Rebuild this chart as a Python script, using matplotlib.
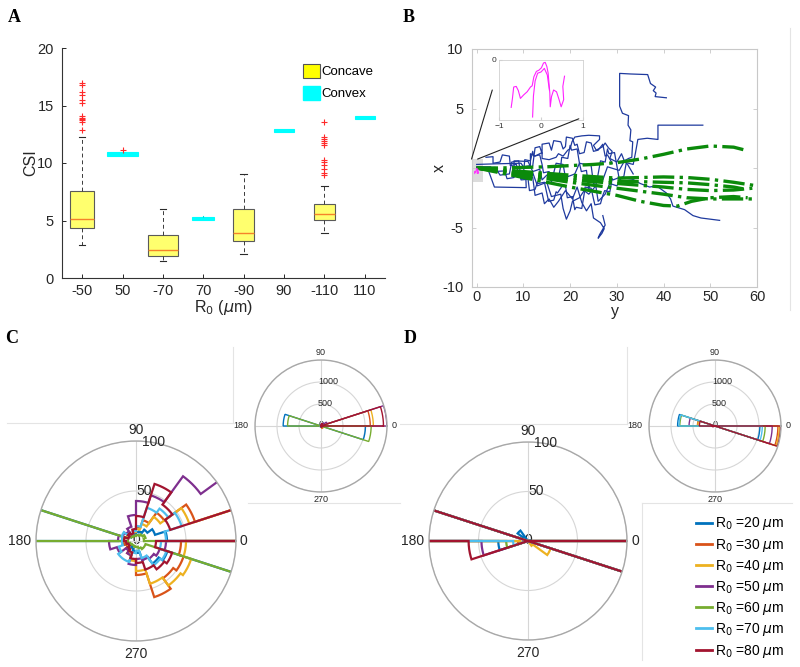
import numpy as np
import matplotlib
matplotlib.use('Agg')
import matplotlib.pyplot as plt
from matplotlib.patches import Patch, Rectangle, ConnectionPatch
from matplotlib.lines import Line2D

plt.rcParams['font.family'] = ['Liberation Sans', 'DejaVu Sans']

# ---------------- data: panel A ----------------
categories = ['-50', '50', '-70', '70', '-90', '90', '-110', '110']
concave_pos = [1, 3, 5, 7]
convex_pos = [2, 4, 6, 8]
concave_med = [5.1, 2.4, 3.95, 5.57]
concave_q1 = [4.35, 1.92, 3.22, 5.05]
concave_q3 = [7.55, 3.78, 6.04, 6.42]
concave_lo = [2.85, 1.51, 2.12, 3.95]
concave_hi = [12.25, 6.04, 9.06, 8.04]
concave_fliers = [[12.9, 13.6, 13.7, 13.8, 13.9, 14.1, 15.2, 15.5, 15.9, 16.2, 16.8, 17.0],
                  [], [],
                  [9.0, 9.1, 9.5, 9.8, 10.1, 10.3, 11.6, 11.7, 11.9, 12.1, 12.3, 13.6]]
concave_w = [0.58, 0.76, 0.52, 0.52]
convex_med = [10.8, 5.15, 12.85, 13.95]
convex_q1 = [10.62, 5.03, 12.72, 13.83]
convex_q3 = [10.97, 5.3, 13.0, 14.07]
convex_hi = [10.97, 5.38, 13.0, 14.07]
convex_fliers = [[11.15], [], [], []]
convex_w = [0.78, 0.54, 0.51, 0.5]

# ---------------- data: panel B ----------------
traj1_y = [0, 4, 9.5, 10, 11.5, 11.5, 12.5, 14, 14, 15.5, 17, 17.5, 18.5, 19.5, 20, 20.4, 21, 22.5, 24, 26.3, 26.3,
           25, 25.6, 27, 27.5, 28.2, 29, 28.5, 30, 31, 31.6, 32.5, 33.2, 33.4, 32.8, 33, 32.4, 32.5, 31.2, 30.6,
           30.6, 33, 36.6, 37.2, 38.3, 37.8, 38.4, 38.2, 40.6]
traj1_x = [0.3, 0.35, 0.4, 0.1, 0.2, 1.2, 1.0, 1.3, 0.8, 0.7, 0.9, 1.2, 1.0, 1.5, 1.6, 2.2, 2.6, 2.7, 2.75, 2.7, 2.4,
           1.9, 1.5, 1.8, 2.1, 1.7, 1.4, 0.8, 0.5, 1.2, 0.6, 0.8, 0.9, 2.2, 2.3, 3.2, 3.6, 4.4, 4.6, 5.2,
           7.95, 7.9, 7.85, 7.1, 6.8, 6.5, 6.3, 6.0, 5.9]
traj2_y = [0, 3, 3, 6, 6.5, 8, 8, 11, 12, 13.5, 14, 15, 16.5, 17, 18.5, 19, 21, 22, 24.5, 25, 27, 28, 30.5,
           31.5, 33.5, 34, 34.5, 36.5, 38.8, 38.8, 48.4]
traj2_x = [0.1, 0.1, -0.3, -0.25, -0.9, -0.8, 0.6, 0.55, -0.3, -0.1, -1.0, -0.6, -0.4, 0.4, 0.3, -0.8, -0.5,
           0.4, 0.2, -1.3, -1.0, 0.1, -0.2, 0.5, 0.3, 1.3, 2.4, 2.5, 2.4, 3.6, 3.6]
traj3_y = [0, 2.5, 3.8, 10.6, 10.5, 12, 13, 15, 16, 18, 18.5, 19.2, 20, 20.5, 22, 23, 24, 25.5, 26, 27.5, 28.5,
           30, 31, 33.4, 35, 37, 38.5, 40.6, 41.5, 42, 44.5, 46.3, 48, 50, 52]
traj3_x = [-0.1, -0.2, -1.6, -1.65, -0.5, -0.4, -1.5, -1.2, -2.4, -2.2, -3.4, -4.3, -3.6, -2.8, -2.5, -1.9, -2.2,
           -1.5, -2.8, -2.2, -1.3, -1.5, -0.8, -0.95, -1.3, -1.6, -1.5, -2.1, -2.6, -3.2, -3.5, -4.0, -4.2,
           -4.3, -4.4]
traj4_y = [0, 4, 5, 7, 7.5, 9, 9.5, 12, 12.5, 14, 14.5, 15.5, 16.5, 17.5, 19, 20.5, 21.5, 22.5, 23.5, 24.5, 25,
           26.5, 27.3, 26.8, 26, 26.3, 27.5, 27]
traj4_x = [0, 0.05, -0.6, -0.5, 0.5, 0.6, -0.9, -0.8, -2.3, -2.1, -3.0, -2.6, -3.3, -2.8, -1.9, -2.6, -1.6, -2.9,
           -3.6, -3.0, -4.2, -4.6, -5.1, -5.5, -5.9, -5.6, -4.8, -4.0]
traj5_y = [2, 3.5, 3.5, 5, 5.5, 7, 7.2, 8.5, 9, 10, 10.3, 11.5, 12, 12.2, 13.5, 14, 14.3, 15.5, 16, 16.2, 17.5,
           18, 18.2, 19.5, 20, 20.3, 21.5, 22, 22.4, 23.5, 24, 24.2, 25.5, 26, 26.5, 27.5, 28, 28.3, 29.5, 30,
           30.5, 31.5, 32, 32.3, 33.5]
traj5_x = [0.9, 0.95, 0.4, 0.5, 1.1, 1.0, 0.2, 0.3, -0.6, -0.5, 0.7, 0.6, 1.4, 1.0, 1.1, 0.3, -0.4, -0.3, -1.2,
           -0.8, -0.9, 0.2, 0.9, 0.8, 1.9, 1.5, 1.6, 0.4, -0.3, -0.2, -1.8, -1.4, -1.5, -0.5, 0.6, 0.5, 1.6, 1.2,
           1.3, 0.2, -0.9, -0.7, 0.4, 0.3, -0.5]
traj6_y = [8, 9, 9.5, 11, 11.3, 12.5, 13, 13.2, 14.5, 15, 15.4, 16.5, 17, 17.3, 18.5, 19, 19.4, 20.5, 21, 21.3,
           22.5, 23, 23.2, 24.5, 25, 25.3, 26.5, 27, 27.4, 28.5, 29, 29.2, 30.5, 31]
traj6_x = [-0.3, -0.25, -1.0, -0.95, -1.9, -1.8, -1.2, -1.3, -1.2, -2.1, -2.8, -2.7, -2.0, -2.1, -1.4, -1.5, -2.5,
           -2.4, -3.5, -3.3, -3.4, -2.2, -1.6, -1.7, -2.6, -3.1, -3.0, -2.3, -1.9, -2.0, -0.9, -1.0, -0.8, -1.3]
traj7_y = [12, 12.5, 13.5, 14, 14, 15.5, 16, 16.5, 18, 18.5, 19, 19.2, 20.5, 21, 21.5, 22, 23, 23.5, 24.5, 25,
           26, 27, 27.5, 28, 29]
traj7_x = [0.2, 1.7, 1.8, 1.2, 2.0, 2.1, 1.5, 2.3, 2.2, 1.6, 1.8, 2.6, 2.5, 1.9, 2.0, 1.2, 1.3, 2.2, 2.1, 1.4,
           1.5, 2.0, 1.0, 1.1, 0.4]
green_y = [[0, 5, 10, 15, 20, 25, 30, 35, 40, 45, 50, 55, 57.5],
           [0, 10, 20, 30, 35, 40, 45, 50, 55, 60],
           [0, 10, 20, 30, 40, 45, 50, 55, 59],
           [0, 10, 20, 30, 40, 45, 50, 55, 60],
           [0, 10, 20, 30, 35, 40, 43, 46, 50, 55, 58],
           [0, 10, 20, 30, 40, 45, 50, 55, 57]]
green_x = [[0, 0, 0.05, 0.1, 0.2, 0.3, 0.45, 0.75, 1.15, 1.6, 1.85, 1.75, 1.5],
           [0, -0.3, -0.6, -0.85, -0.8, -0.75, -0.8, -0.95, -1.2, -1.5],
           [0, -0.5, -1.0, -1.3, -1.6, -1.8, -1.9, -1.85, -1.7],
           [0, -0.6, -1.2, -1.7, -2.2, -2.5, -2.6, -2.6, -2.6],
           [0, -0.8, -1.6, -2.3, -2.8, -3.15, -3.2, -2.8, -2.5, -2.4, -2.5],
           [0, -0.4, -0.8, -1.1, -1.2, -1.25, -1.4, -1.6, -1.75]]
mag_x = [-0.71, -0.68, -0.65, -0.59, -0.54, -0.49, -0.41, -0.33, -0.25, -0.21, -0.17, -0.11, -0.05, 0.01, 0.06,
         0.10, 0.14, 0.17, 0.19, 0.21, 0.22, 0.25, 0.30, 0.37, 0.43, 0.48, 0.54, 0.52, 0.56]
mag_y = [-0.79, -0.64, -0.45, -0.44, -0.51, -0.64, -0.58, -0.53, -0.45, -0.43, -0.28, -0.19, -0.17, -0.13, -0.05,
         -0.04, -0.11, -0.22, -0.39, -0.55, -0.78, -0.61, -0.50, -0.53, -0.66, -0.78, -0.66, -0.44, -0.27]
mag2_x = [0.20, 0.15, 0.08, 0.0, -0.08, -0.14, -0.18, -0.20]
mag2_y = [-0.50, -0.25, -0.14, -0.20, -0.22, -0.35, -0.60, -0.95]

# ---------------- data: panels C, D (20 bins of 18 deg) ----------------
labels_R0 = ['20', '30', '40', '50', '60', '70', '80']
series_colors = ['#0072BD', '#D95319', '#EDB120', '#7E2F8E', '#77AC30', '#4DBEEE', '#A2142F']
C_counts = [
    [31, 20, 14, 10, 9, 8, 6, 6, 9, 860, 12, 7, 6, 8, 10, 12, 20, 28, 33, 1010],
    [1120, 62, 35, 22, 14, 10, 8, 8, 10, 14, 12, 10, 12, 15, 19, 34, 59, 46, 50, 45],
    [1190, 56, 30, 18, 12, 9, 8, 8, 10, 12, 10, 9, 10, 14, 20, 30, 45, 55, 58, 50],
    [1495, 150, 80, 48, 40, 26, 15, 12, 14, 18, 27, 20, 12, 15, 24, 18, 20, 22, 25, 30],
    [8, 10, 8, 6, 6, 5, 5, 6, 8, 760, 8, 6, 5, 5, 6, 6, 8, 10, 10, 1140],
    [30, 48, 40, 35, 15, 10, 8, 10, 15, 14, 14, 18, 22, 22, 12, 10, 18, 30, 32, 25],
    [1420, 36, 45, 60, 25, 12, 8, 10, 8, 12, 10, 8, 10, 12, 18, 22, 30, 35, 38, 20],
]
D_counts = [
    [2, 0, 0, 0, 0, 0, 0, 13, 0, 850, 30, 0, 0, 0, 0, 0, 0, 0, 0, 1020],
    [0, 0, 0, 0, 0, 0, 0, 0, 0, 400, 10, 0, 0, 0, 0, 0, 0, 0, 0, 1430],
    [0, 0, 0, 0, 0, 0, 0, 0, 0, 390, 8, 0, 0, 0, 0, 0, 0, 6, 24, 1460],
    [0, 0, 0, 0, 0, 0, 0, 0, 0, 590, 47, 0, 0, 0, 0, 0, 0, 0, 0, 1300],
    [0, 0, 0, 0, 0, 0, 0, 0, 0, 800, 22, 0, 0, 0, 0, 0, 0, 0, 0, 1140],
    [0, 0, 0, 0, 0, 0, 0, 0, 0, 820, 15, 0, 0, 0, 0, 0, 0, 0, 0, 1075],
    [0, 0, 0, 0, 0, 0, 0, 0, 0, 355, 60, 0, 0, 0, 0, 0, 0, 0, 0, 1490],
]

fig = plt.figure(figsize=(8, 6.67), dpi=100)
W, H = 800.0, 667.0


def fbox(l, t, r, b):
    return [l / W, 1 - b / H, (r - l) / W, (b - t) / H]


def fline(x0, y0, x1, y1):
    fig.add_artist(Line2D([x0 / W, x1 / W], [1 - y0 / H, 1 - y1 / H], transform=fig.transFigure,
                          color='#e4e4e4', lw=0.8))


# faint panel frames
fline(7, 423, 233, 423); fline(233, 347, 233, 423); fline(248, 503, 400, 503)
fline(400, 424, 627, 424); fline(627, 347, 627, 424); fline(642, 503, 792, 503); fline(642, 503, 642, 660)
fline(790, 28, 790, 310)

# panel letters
for lab, x, y in [('A', 8, 22), ('B', 403, 22), ('C', 5, 343), ('D', 404, 343)]:
    fig.text(x / W, 1 - y / H, lab, fontsize=13, fontweight='bold', family='Liberation Serif')

# ---------------- Panel A ----------------
axA = fig.add_axes(fbox(62, 48, 385, 278))
cstats = [dict(med=concave_med[i], q1=concave_q1[i], q3=concave_q3[i], whislo=concave_lo[i],
               whishi=concave_hi[i], fliers=concave_fliers[i]) for i in range(4)]
axA.bxp(cstats, positions=concave_pos, widths=concave_w, patch_artist=True, capwidths=0.16,
        boxprops=dict(facecolor='#ffff6e', edgecolor='#5a5a5a', lw=0.8),
        medianprops=dict(color='#f5822a', lw=1.0),
        whiskerprops=dict(color='#3a3a3a', ls=(0, (4, 3)), lw=0.7),
        capprops=dict(color='#2a2a2a', lw=0.8),
        flierprops=dict(marker='+', markeredgecolor='#ff2a2a', markersize=4, mew=0.8))
vstats = [dict(med=convex_med[i], q1=convex_q1[i], q3=convex_q3[i], whislo=convex_q1[i],
               whishi=convex_hi[i], fliers=convex_fliers[i]) for i in range(4)]
axA.bxp(vstats, positions=convex_pos, widths=convex_w, patch_artist=True, capwidths=0.0,
        boxprops=dict(facecolor='#00ffff', edgecolor='#00ffff', lw=0.8),
        medianprops=dict(color='#00ffff', lw=0.8),
        whiskerprops=dict(color='#00e0e0', lw=0.8),
        capprops=dict(color='#00ffff', lw=0.0),
        flierprops=dict(marker='+', markeredgecolor='#ff2a2a', markersize=4, mew=0.8))
axA.set_xlim(0.5, 8.5)
axA.set_ylim(0, 20)
axA.set_xticks(range(1, 9))
axA.set_xticklabels(categories)
axA.set_yticks([0, 5, 10, 15, 20])
for s in ['top', 'right']:
    axA.spines[s].set_visible(False)
for s in ['left', 'bottom']:
    axA.spines[s].set_color('#333333'); axA.spines[s].set_linewidth(0.8)
axA.tick_params(direction='in', length=3, labelsize=10.5, colors='#262626', width=0.7, pad=4)
axA.tick_params(axis='y', pad=6)
axA.set_ylabel('CSI', fontsize=11.5, color='#262626')
axA.yaxis.set_label_coords(-0.075, 0.5)
axA.set_xlabel(r'R$_0$ ($\mu$m)', fontsize=11.5, color='#262626')
axA.xaxis.set_label_coords(0.5, -0.088)
fig.legend(handles=[Patch(facecolor='#ffff00', edgecolor='#555555', lw=0.8),
                    Patch(facecolor='#00ffff', edgecolor='#00ffff')],
           labels=['Concave', 'Convex'], loc='upper left', bbox_to_anchor=(291 / W, 1 - 52 / H),
           frameon=False, fontsize=9.5, handlelength=1.3, handleheight=1.3, handletextpad=0.1,
           labelspacing=0.55)

# ---------------- Panel B ----------------
axB = fig.add_axes(fbox(472, 49, 757, 287))
axB.add_patch(Rectangle((-1.1, -1.15), 2.45, 1.9, facecolor='#dcdcdc', edgecolor='none', zorder=1))
for ty, tx in [(traj1_y, traj1_x), (traj2_y, traj2_x), (traj3_y, traj3_x), (traj4_y, traj4_x),
               (traj5_y, traj5_x), (traj6_y, traj6_x), (traj7_y, traj7_x)]:
    axB.plot(ty, tx, color='#1f3a9e', lw=0.9, zorder=2)
for gy, gx in zip(green_y, green_x):
    axB.plot(gy, gx, color='#0b8a0b', lw=2.4, ls='-.', zorder=3)
axB.plot(np.array(mag_x) * 0.6, np.array(mag_y) * 0.6, color='#ff33ff', lw=0.7, zorder=4)
axB.set_xlim(-1, 60)
axB.set_ylim(-10, 10)
axB.set_xticks([0, 10, 20, 30, 40, 50, 60])
axB.set_yticks([-10, -5, 0, 5, 10])
axB.set_yticklabels(['-10', '-5', '', '5', '10'])
for s in axB.spines.values():
    s.set_color('#c8c8c8'); s.set_linewidth(0.8)
axB.tick_params(direction='in', length=3, labelsize=10.5, colors='#262626', width=0.6,
                top=True, right=True, pad=2)
axB.tick_params(axis='y', pad=6)
axB.tick_params(axis='both', color='#c8c8c8')
axB.set_xlabel('y', fontsize=11.5, color='#262626')
axB.xaxis.set_label_coords(0.5, -0.072)
axB.set_ylabel('x', fontsize=11.5, color='#262626', rotation=90)
axB.yaxis.set_label_coords(-0.088, 0.5)

axIn = fig.add_axes(fbox(499, 60, 583, 120))
axIn.plot(mag_x, mag_y, color='#ff22ff', lw=0.8)
axIn.plot(mag2_x, mag2_y, color='#ff22ff', lw=0.8)
axIn.set_xlim(-1, 1)
axIn.set_ylim(-1, 0)
axIn.set_xticks([-1, 0, 1])
axIn.set_yticks([0])
for s in axIn.spines.values():
    s.set_color('#d0d0d0'); s.set_linewidth(0.6)
axIn.tick_params(direction='in', length=2, labelsize=6, colors='#333333', pad=2)
axIn.tick_params(axis='both', color='#d0d0d0')
for xyA, xyB in [((-1.1, 0.75), (-0.08, 0.5)), ((0.2, 0.75), (0.95, 0.02))]:
    cp = ConnectionPatch(xyA=xyA, coordsA=axB.transData, xyB=xyB, coordsB=axIn.transAxes,
                         color='#222222', lw=0.8)
    fig.add_artist(cp)


# ---------------- Polar helpers ----------------
def rose(ax, counts, color, lw):
    edges = np.deg2rad(np.arange(0, 361, 18))
    th, rr = [], []
    for k in range(len(counts)):
        t = np.linspace(edges[k], edges[k + 1], 24)
        th.extend(t); rr.extend([counts[k]] * len(t))
    th.append(edges[-1]); rr.append(counts[0])
    ax.plot(th, rr, color=color, lw=lw, solid_joinstyle='miter', zorder=2)


def style_polar(ax, rmax, rt, rtl, fs, offs):
    ax.set_ylim(0, rmax)
    ax.set_thetagrids([0, 90, 180, 270], ['', '', '', ''])
    ax.set_rgrids(rt, [''] * len(rt))
    ax.grid(True, color='#d6d6d6', lw=0.8)
    ax.spines['polar'].set_color('#a8a8a8')
    ax.spines['polar'].set_linewidth(1.0)
    kw = dict(textcoords='offset pixels', fontsize=fs, color='#262626', annotation_clip=False)
    ax.annotate('0', xy=(0, rmax), xytext=(offs[0], 0), ha='left', va='center', **kw)
    ax.annotate('90', xy=(np.pi / 2, rmax), xytext=(0, offs[1]), ha='center', va='bottom', **kw)
    ax.annotate('180', xy=(np.pi, rmax), xytext=(-offs[2], 0), ha='right', va='center', **kw)
    ax.annotate('270', xy=(1.5 * np.pi, rmax), xytext=(0, -offs[3]), ha='center', va='top', **kw)
    for r, lab in zip(rt, rtl):
        if lab:
            ax.annotate(lab, xy=(np.deg2rad(80), r), xytext=(0, 1), ha='center', va='center',
                        zorder=1 if r == 0 else 3, **kw)


def polar_panel(box_main, box_in, counts):
    axm = fig.add_axes(box_main, projection='polar')
    style_polar(axm, 100, [0, 50, 100], ['0', '50', '100'], 10, (4, 4, 5, 6))
    for c, col in zip(counts, series_colors):
        rose(axm, c, col, 1.6)
    axi = fig.add_axes(box_in, projection='polar')
    style_polar(axi, 1500, [0, 500, 1000, 1500], ['0', '500', '1000', ''], 6.5, (5, 3, 7, 3))
    for c, col in zip(counts, series_colors):
        rose(axi, c, col, 1.0)
    return axm, axi


polar_panel(fbox(36, 441, 236, 641), fbox(255, 360, 387, 492), C_counts)
polar_panel(fbox(429, 442, 627, 640), fbox(649, 360, 781, 492), D_counts)

handles = [Line2D([0], [0], color=c, lw=2) for c in series_colors]
fig.legend(handles=handles, labels=[r'R$_0$ =' + v + r' $\mu$m' for v in labels_R0], loc='upper left',
           bbox_to_anchor=(683 / W, 1 - 503 / H), frameon=False, fontsize=10, handlelength=1.2,
           handletextpad=0.2, labelspacing=0.3)

fig.savefig('out.png', dpi=100)
